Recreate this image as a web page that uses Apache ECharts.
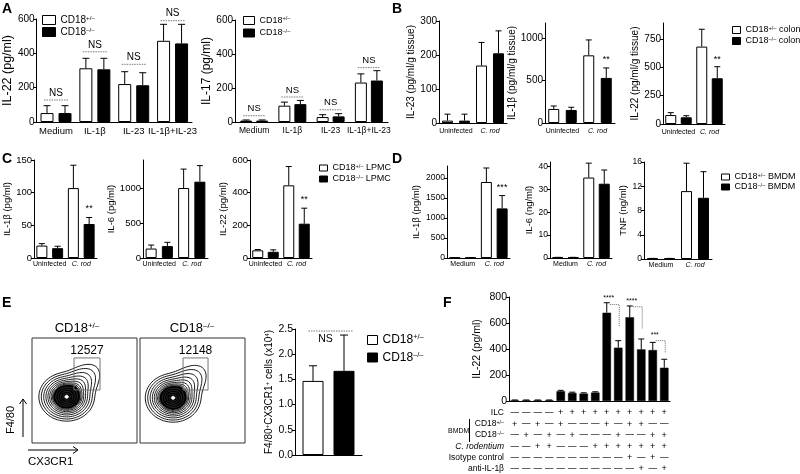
<!DOCTYPE html>
<html><head><meta charset="utf-8">
<script src="https://cdn.jsdelivr.net/npm/echarts@6/dist/echarts.min.js"></script>
<style>html,body{margin:0;padding:0;background:#fff}#c{width:800px;height:474px}</style>
</head><body><div id="c"></div>
<script>
// ---------------- DATA ----------------
const A_cats = ['Medium', 'IL-1β', 'IL-23', 'IL-1β+IL-23'];
const A1_het = [52, 313, 221, 473];
const A1_het_err = [95, 371, 293, 569];
const A1_ko = [52, 307, 214, 458];
const A1_ko_err = [95, 371, 287, 569];
const A1_ns = [128, 409, 336, 590];
const A2_het = [8, 96, 29, 232];
const A2_het_err = [12, 117, 43, 283];
const A2_ko = [8, 105, 33, 244];
const A2_ko_err = [12, 127, 49, 302];
const A2_ns = [37, 147, 72, 320];

const BC_cats = ['Uninfected', 'C. rod'];
const D_cats = ['Medium', 'C. rod'];
const B1_het = [7, 169], B1_het_err = [26, 237], B1_ko = [7, 205], B1_ko_err = [26, 271];
const B2_het = [165, 795], B2_het_err = [200, 976], B2_ko = [153, 530], B2_ko_err = [185, 647];
const B3_het = [79, 682], B3_het_err = [100, 835], B3_ko = [59, 403], B3_ko_err = [73, 505];
const B2_star = [[1, 741, '**']];
const B3_star = [[1, 565, '**']];
const C1_het = [19, 107], C1_het_err = [22, 142], C1_ko = [15, 52], C1_ko_err = [18, 62];
const C2_het = [135, 1000], C2_het_err = [185, 1270], C2_ko = [170, 1090], C2_ko_err = [224, 1320];
const C3_het = [47, 445], C3_het_err = [52, 560], C3_ko = [38, 210], C3_ko_err = [50, 305];
const C1_star = [[1, 75, '**']];
const C3_star = [[1, 357, '**']];
const D1_het = [10, 1900], D1_het_err = [10, 2250], D1_ko = [10, 1240], D1_ko_err = [10, 1560];
const D2_het = [0.3, 35.2], D2_het_err = [0.3, 41.5], D2_ko = [0.3, 32.5], D2_ko_err = [0.3, 38.5];
const D3_het = [0.1, 11.2], D3_het_err = [0.1, 15.8], D3_ko = [0.1, 10.1], D3_ko_err = [0.1, 14.4];
const D1_star = [[1, 1750, '***']];

const E_cat = ['E'];
const E_het = [1.47], E_het_err = [1.77];
const E_ko = [1.67], E_ko_err = [2.38];
const E_ns = 2.46;

const F_cols = ['1','2','3','4','5','6','7','8','9','10','11','12','13','14'];
const F_vals = [5, 5, 5, 5, 75, 62, 57, 65, 679, 410, 644, 397, 392, 256];
const F_err = [8, 8, 8, 8, 82, 68, 63, 71, 756, 464, 731, 477, 451, 321];
const F_brackets = [[8, 9, 742, 570, '****', 790], [10, 11, 725, 555, '****', 772], [12, 13, 464, 369, '***', 505]];
const F_rowLabels = ['ILC', 'CD18{s|+/–}', 'CD18{s|–/–}', '{i|C. rodentium}', 'Isotype control', 'anti-IL-1β'];
const F_ILC  = [0,0,0,0,1,1,1,1,1,1,1,1,1,1];
const F_het  = [1,0,1,0,1,0,0,0,1,0,1,1,0,0];
const F_ko   = [0,1,0,1,0,1,0,0,0,1,0,0,1,1];
const F_crod = [0,0,1,1,0,0,0,1,1,1,1,1,1,1];
const F_iso  = [0,0,0,0,0,0,0,0,0,0,1,0,1,0];
const F_anti = [0,0,0,0,0,0,0,0,0,0,0,1,0,1];

const flowTitles = ['CD18{s|+/–}', 'CD18{s|–/–}'];
const flowCounts = ['12527', '12148'];
const flowGates = [[40, 50.5, 64.8, 81], [41, 50.5, 64.8, 81]];
const flowCenters = [[33, 44], [31.5, 43]];
const flowRadii = [1.6, 3.5, 5.6, 7.7, 9.8, 12.0, 12.9, 14.0, 15.4, 17.0, 18.8, 20.8, 23.0, 25.2];
const flowTails = [0, 0, 0.03, 0.05, 0.08, 0.12, 0.14, 0.17, 0.22, 0.29, 0.37, 0.46, 0.55, 0.63];
const flowCoreR = 12.0;

const legendText = {
  A1h: 'CD18{s|+/–}', A1k: 'CD18{s|–/–}',
  A2h: 'CD18{s|+/–}', A2k: 'CD18{s|–/–}',
  B1h: 'CD18{s|+/–} colon', B1k: 'CD18{s|–/–} colon',
  C1h: 'CD18{s|+/–} LPMC', C1k: 'CD18{s|–/–} LPMC',
  D1h: 'CD18{s|+/–} BMDM', D1k: 'CD18{s|–/–} BMDM',
  Eh: 'CD18{s|+/–}', Ek: 'CD18{s|–/–}'
};

// ---------------- BUILD ----------------
const FONT = 'Liberation Sans, Arial, Helvetica, sans-serif';
function rich(fs) {
  const s = Math.round(fs * 0.62 * 10) / 10;
  return { s: { fontSize: s, verticalAlign: 'top', lineHeight: s, fontFamily: FONT, color: '#000' },
           i: { fontStyle: 'italic', fontSize: fs, fontFamily: FONT, color: '#000' } };
}
const grids = [], xAxis = [], yAxis = [], series = [], legend = [];

function errSeries(gi, vals, errs, off, cap) {
  return { type: 'custom', xAxisIndex: gi, yAxisIndex: gi, z: 1, silent: true, clip: false,
    data: vals.map((v, i) => [i, v, errs[i]]),
    renderItem: (params, api) => {
      const i = api.value(0);
      const a = api.coord([i, api.value(1)]);
      const b = api.coord([i, api.value(2)]);
      const x = a[0] + off;
      return { type: 'group', children: [
        { type: 'line', shape: { x1: x, y1: a[1], x2: x, y2: b[1] }, style: { stroke: '#000', lineWidth: 1 } },
        { type: 'line', shape: { x1: x - cap, y1: b[1], x2: x + cap, y2: b[1] }, style: { stroke: '#000', lineWidth: 1 } }
      ] };
    } };
}
function nsSeries(gi, arr, sep, fs) {
  return { type: 'custom', xAxisIndex: gi, yAxisIndex: gi, z: 4, silent: true, clip: false,
    data: arr.map((v, i) => [i, v]),
    renderItem: (params, api) => {
      const c = api.coord([api.value(0), api.value(1)]);
      const half = sep / 2 + 3;
      return { type: 'group', children: [
        { type: 'line', shape: { x1: c[0] - half, y1: c[1], x2: c[0] + half, y2: c[1] }, style: { stroke: '#555', lineWidth: 0.8, lineDash: [1.5, 1] } },
        { type: 'text', x: c[0], y: c[1] - 2, style: { text: 'NS', fontSize: fs, fontFamily: FONT, fill: '#000', align: 'center', verticalAlign: 'bottom' } }
      ] };
    } };
}
function starSeries(gi, arr, off, fs) {
  return { type: 'custom', xAxisIndex: gi, yAxisIndex: gi, z: 4, silent: true, clip: false,
    data: arr.map(a => [a[0], a[1]]),
    renderItem: (params, api) => {
      const c = api.coord([api.value(0), api.value(1)]);
      return { type: 'text', x: c[0] + off, y: c[1], style: { text: arr[params.dataIndex][2], fontSize: fs, fontFamily: FONT, fill: '#000', align: 'center', verticalAlign: 'middle' } };
    } };
}
function valueAxis(gi, p) {
  return { type: 'value', gridIndex: gi, min: 0, max: p.max, interval: p.ticks[1] - p.ticks[0],
    axisLine: { show: true, lineStyle: { color: '#000', width: 1 } },
    axisTick: { show: true, length: 3, lineStyle: { color: '#000' }, customValues: p.ticks },
    axisLabel: { color: '#000', fontSize: p.tf, margin: 2, fontFamily: FONT, customValues: p.ticks, formatter: p.fmt || (v => String(v)) },
    splitLine: { show: false },
    name: p.name, nameLocation: 'middle', nameGap: p.nameGap,
    nameTextStyle: { color: '#000', fontSize: p.nf, fontFamily: FONT, rich: rich(p.nf) } };
}
function addBarPanel(p) {
  const gi = grids.length;
  const [l, t, w, h] = p.box;
  grids.push({ left: l, top: t, width: w, height: h });
  const sep = p.sep || w / 4;
  const gapPx = sep - p.barW;
  xAxis.push({ type: 'category', gridIndex: gi, data: p.cats,
    axisLine: { lineStyle: { color: '#000', width: 1 } }, axisTick: { show: false },
    axisLabel: { show: !p.noCat, interval: 0, color: '#000', fontSize: p.cf, margin: p.cm, fontFamily: FONT,
      formatter: v => v === 'C. rod' ? '{i|C. rod}' : v, rich: rich(p.cf) } });
  yAxis.push(valueAxis(gi, p));
  const bg = (gapPx / p.barW * 100).toFixed(1) + '%';
  series.push({ type: 'bar', name: p.id + 'h', xAxisIndex: gi, yAxisIndex: gi, data: p.het, barWidth: p.barW, barGap: bg,
    itemStyle: { color: '#fff', borderColor: '#000', borderWidth: 1 }, z: 3, silent: true });
  series.push({ type: 'bar', name: p.id + 'k', xAxisIndex: gi, yAxisIndex: gi, data: p.ko, barWidth: p.barW, barGap: bg,
    itemStyle: { color: '#000', borderColor: '#000', borderWidth: 1 }, z: 3, silent: true });
  series.push(errSeries(gi, p.het, p.hetErr, -sep / 2, p.cap));
  series.push(errSeries(gi, p.ko, p.koErr, sep / 2, p.cap));
  if (p.ns) series.push(nsSeries(gi, p.ns, sep, p.nsFont));
  if (p.star) series.push(starSeries(gi, p.star, sep / 2, p.sf || 9));
  return gi;
}
function addLegend(ids, l, t, iw, ih, gap, fs, lh) {
  legend.push({ orient: 'vertical', left: l, top: t, padding: 0, itemWidth: iw, itemHeight: ih, itemGap: gap,
    data: ids, icon: 'rect', selectedMode: false,
    itemStyle: { borderColor: '#000', borderWidth: 1 },
    formatter: n => legendText[n],
    textStyle: { fontSize: fs, lineHeight: lh, color: '#000', fontFamily: FONT, rich: rich(fs) } });
}

// Panel A
addBarPanel({ id: 'A1', box: [33, 19, 159, 103], cats: A_cats, het: A1_het, hetErr: A1_het_err, ko: A1_ko, koErr: A1_ko_err,
  max: 600, ticks: [0, 200, 400, 600], name: 'IL-22 (pg/ml)', nameGap: 16, barW: 13, sep: 18, cap: 3.5,
  tf: 10, nf: 12.5, cf: 9.5, cm: 4, ns: A1_ns, nsFont: 10 });
addBarPanel({ id: 'A2', box: [235, 20, 153, 102], cats: A_cats, het: A2_het, hetErr: A2_het_err, ko: A2_ko, koErr: A2_ko_err,
  max: 600, ticks: [0, 200, 400, 600], name: 'IL-17 (pg/ml)', nameGap: 20, barW: 12, sep: 16, cap: 3.5,
  tf: 10, nf: 12, cf: 8.5, cm: 4, ns: A2_ns, nsFont: 9.5 });
// Panel B
const Bcommon = { cats: BC_cats, barW: 11, cap: 3, tf: 10, nf: 10, cf: 7, cm: 4.5 };
addBarPanel(Object.assign({}, Bcommon, { id: 'B1', box: [439, 21, 68, 102], het: B1_het, hetErr: B1_het_err, ko: B1_ko, koErr: B1_ko_err,
  max: 300, ticks: [0, 100, 200, 300], name: 'IL-23 (pg/ml/g tissue)', nameGap: 20 }));
addBarPanel(Object.assign({}, Bcommon, { id: 'B2', box: [545, 23, 70, 100], het: B2_het, hetErr: B2_het_err, ko: B2_ko, koErr: B2_ko_err,
  max: 1175, ticks: [0, 500, 1000], name: 'IL-1β (pg/ml/g tissue)', nameGap: 16, star: B2_star }));
addBarPanel(Object.assign({}, Bcommon, { id: 'B3', box: [663, 23, 62, 101], het: B3_het, hetErr: B3_het_err, ko: B3_ko, koErr: B3_ko_err,
  max: 890, ticks: [0, 250, 500, 750], name: 'IL-22 (pg/ml/g tissue)', nameGap: 21, star: B3_star }));
// Panel C
const Ccommon = { cats: BC_cats, barW: 11, cap: 3, tf: 9.5, nf: 9.5, cf: 7, cm: 3 };
addBarPanel(Object.assign({}, Ccommon, { id: 'C1', box: [34, 160, 63, 98], het: C1_het, hetErr: C1_het_err, ko: C1_ko, koErr: C1_ko_err,
  max: 150, ticks: [0, 50, 100, 150], name: 'IL-1β (pg/ml)', nameGap: 20, star: C1_star }));
addBarPanel(Object.assign({}, Ccommon, { id: 'C2', box: [143, 160, 65, 98], het: C2_het, hetErr: C2_het_err, ko: C2_ko, koErr: C2_ko_err,
  max: 1400, ticks: [0, 500, 1000], name: 'IL-6 (pg/ml)', nameGap: 24 }));
addBarPanel(Object.assign({}, Ccommon, { id: 'C3', box: [250, 160, 62, 98], het: C3_het, hetErr: C3_het_err, ko: C3_ko, koErr: C3_ko_err,
  max: 600, ticks: [0, 200, 400, 600], name: 'IL-22 (pg/ml)', nameGap: 21, star: C3_star }));
// Panel D
const Dcommon = { cats: D_cats, barW: 11, cap: 3, tf: 8.5, nf: 9.5, cf: 7, cm: 3 };
addBarPanel(Object.assign({}, Dcommon, { id: 'D1', box: [447, 166, 63, 92], het: D1_het, hetErr: D1_het_err, ko: D1_ko, koErr: D1_ko_err,
  max: 2300, ticks: [0, 500, 1000, 1500, 2000], name: 'IL-1β (pg/ml)', nameGap: 26, star: D1_star }));
addBarPanel(Object.assign({}, Dcommon, { id: 'D2', box: [550, 162, 62, 96], het: D2_het, hetErr: D2_het_err, ko: D2_ko, koErr: D2_ko_err,
  max: 42, ticks: [0, 10, 20, 30, 40], name: 'IL-6 (ng/ml)', nameGap: 14 }));
addBarPanel(Object.assign({}, Dcommon, { id: 'D3', box: [644, 162, 68, 97], het: D3_het, hetErr: D3_het_err, ko: D3_ko, koErr: D3_ko_err,
  max: 16, ticks: [0, 4, 8, 12, 16], name: 'TNF (ng/ml)', nameGap: 9 }));
// Panel E bar
const gE = addBarPanel({ id: 'E', box: [295, 329, 67, 126], cats: E_cat, het: E_het, hetErr: E_het_err, ko: E_ko, koErr: E_ko_err,
  max: 2.5, ticks: [0, 0.5, 1, 1.5, 2, 2.5], fmt: v => v.toFixed(1), name: 'F4/80{s|+}CX3CR1{s|+} cells (x10{s|4})', nameGap: 20,
  barW: 21, sep: 31, cap: 4, tf: 10.5, nf: 10, cf: 9, cm: 3, noCat: true });
series.push({ type: 'custom', xAxisIndex: gE, yAxisIndex: gE, z: 4, silent: true, clip: false, data: [[0, E_ns]],
  renderItem: (params, api) => {
    const c = api.coord([api.value(0), api.value(1)]);
    return { type: 'group', children: [
      { type: 'line', shape: { x1: c[0] - 20, y1: c[1], x2: c[0] + 24, y2: c[1] }, style: { stroke: '#555', lineWidth: 0.8, lineDash: [1.5, 1] } },
      { type: 'text', x: c[0] - 3, y: c[1] + 3, style: { text: 'NS', fontSize: 10.5, fontFamily: FONT, fill: '#000', align: 'center', verticalAlign: 'top' } }
    ] };
  } });

// Panel F
const gF = grids.length;
grids.push({ left: 509, top: 297, width: 161, height: 104 });
xAxis.push({ type: 'category', gridIndex: gF, data: F_cols, axisLine: { lineStyle: { color: '#000' } }, axisTick: { show: false }, axisLabel: { show: false } });
yAxis.push(valueAxis(gF, { max: 800, ticks: [0, 200, 400, 600, 800], name: 'IL-22 (pg/ml)', nameGap: 26, tf: 10.5, nf: 10.5 }));
series.push({ type: 'bar', name: 'F', xAxisIndex: gF, yAxisIndex: gF, data: F_vals, barWidth: 8.5,
  itemStyle: { color: '#000', borderColor: '#000', borderWidth: 0.5 }, z: 3, silent: true });
series.push(errSeries(gF, F_vals, F_err, 0, 3));
series.push({ type: 'custom', xAxisIndex: gF, yAxisIndex: gF, z: 4, silent: true, clip: false,
  data: F_brackets.map(b => [b[0], b[2]]),
  renderItem: (params, api) => {
    const b = F_brackets[params.dataIndex];
    const a = api.coord([b[0], b[2]]), e = api.coord([b[1], b[2]]), d = api.coord([b[1], b[3]]), t = api.coord([b[0], b[5]]);
    return { type: 'group', children: [
      { type: 'polyline', shape: { points: [[a[0] + 3, a[1]], [e[0] + 1, e[1]], [d[0] + 1, d[1]]] }, style: { stroke: '#666', fill: null, lineWidth: 0.8, lineDash: [1.2, 0.8] } },
      { type: 'text', x: t[0] + 2, y: t[1], style: { text: b[4], fontSize: 7, fontFamily: FONT, fill: '#000', align: 'center', verticalAlign: 'middle' } }
    ] };
  } });
// F table
const gT = grids.length;
grids.push({ left: 509, top: 407.4, width: 161, height: 67.2 });
xAxis.push({ type: 'category', gridIndex: gT, data: F_cols, show: false });
yAxis.push({ type: 'category', gridIndex: gT, data: F_rowLabels, inverse: true, axisLine: { show: false }, axisTick: { show: false },
  axisLabel: { interval: 0, hideOverlap: false, color: '#000', fontSize: 8.5, margin: 5, fontFamily: FONT, rich: rich(8.5) } });
const F_rows = [F_ILC, F_het, F_ko, F_crod, F_iso, F_anti];
const F_cells = [];
F_rows.forEach((row, r) => row.forEach((v, c) => F_cells.push([c, r, v])));
series.push({ type: 'custom', xAxisIndex: gT, yAxisIndex: gT, silent: true, clip: false,
  data: F_cells.map(d => [d[0], d[1]]),
  renderItem: (params, api) => {
    const c = api.coord([api.value(0), api.value(1)]);
    const plus = F_cells[params.dataIndex][2] === 1;
    return { type: 'text', x: c[0], y: c[1], style: { text: plus ? '+' : '—', fontSize: plus ? 9 : 8.5, fontFamily: FONT, fill: '#000', align: 'center', verticalAlign: 'middle' } };
  } });

// Flow plots (contours drawn from the outermost inwards; the core is filled)
const flowBoxes = [[32, 338, 105, 105], [140, 338, 105, 105]];
const nC = flowRadii.length;
flowBoxes.forEach((bx, k) => {
  const gi = grids.length;
  grids.push({ left: bx[0], top: bx[1], width: bx[2], height: bx[3], show: true, borderColor: '#333', borderWidth: 1, backgroundColor: 'transparent' });
  xAxis.push({ type: 'value', gridIndex: gi, min: 0, max: 100, show: false });
  yAxis.push({ type: 'value', gridIndex: gi, min: 0, max: 100, show: false });
  const cen = flowCenters[k];
  series.push({ type: 'custom', xAxisIndex: gi, yAxisIndex: gi, silent: true, clip: false,
    data: flowRadii.map((r, i) => [flowRadii[nC - 1 - i], flowTails[nC - 1 - i]]),
    renderItem: (params, api) => {
      const idx = nC - 1 - params.dataIndex;
      const r = flowRadii[idx], tl = flowTails[idx];
      const ang = 50 * Math.PI / 180;
      const pts = [];
      for (let s = 0; s < 72; s++) {
        const th = 2 * Math.PI * s / 72;
        let d = th - ang; d = Math.atan2(Math.sin(d), Math.cos(d));
        const rad = r * (1 + tl * Math.exp(-d * d / 0.2));
        pts.push(api.coord([cen[0] + rad * Math.cos(th) * 1.05, cen[1] + rad * Math.sin(th) * 0.92]));
      }
      let fill = null, stroke = '#000';
      if (r === flowCoreR) fill = '#000';
      if (idx === 0) { fill = '#fff'; stroke = '#fff'; }
      else if (r < flowCoreR) { stroke = '#333'; }
      return { type: 'polygon', shape: { points: pts, smooth: 0.3 }, style: { stroke: stroke, fill: fill, lineWidth: 0.9 } };
    } });
  series.push({ type: 'custom', xAxisIndex: gi, yAxisIndex: gi, silent: true, clip: false,
    data: [[flowGates[k][0], flowGates[k][1]]],
    renderItem: (params, api) => {
      const g = flowGates[k];
      const p0 = api.coord([g[0], g[3]]), p1 = api.coord([g[2], g[1]]);
      return { type: 'group', children: [
        { type: 'rect', shape: { x: p0[0], y: p0[1], width: p1[0] - p0[0], height: p1[1] - p0[1] }, style: { stroke: '#777', fill: null, lineWidth: 1 } },
        { type: 'text', x: (p0[0] + p1[0]) / 2, y: p0[1] - 1, style: { text: flowCounts[k], fontSize: 12, fontFamily: FONT, fill: '#000', align: 'center', verticalAlign: 'bottom' } }
      ] };
    } });
});

// Legends
addLegend(['A1h', 'A1k'], 42, 15, 13, 9, 2, 10, 10);
addLegend(['A2h', 'A2k'], 243, 15.5, 11, 8, 2.5, 9, 10);
addLegend(['B1h', 'B1k'], 732, 25, 8, 7, 1, 9, 10);
addLegend(['C1h', 'C1k'], 319, 163, 8, 6, 1, 9, 10);
addLegend(['D1h', 'D1k'], 721, 172.5, 8, 6, 1, 9, 9);
addLegend(['Eh', 'Ek'], 367, 333.5, 10, 9, 4.5, 12, 13);

// Static decorations
const letters = [['A', 2, 2], ['B', 392, 2], ['C', 2, 152], ['D', 392, 152], ['E', 2, 296], ['F', 443, 296]];
const graphic = letters.map(L => ({ type: 'text', x: L[1], y: L[2], style: { text: L[0], font: 'bold 14px ' + FONT, fill: '#000', verticalAlign: 'top' } }));
[[77, 328], [192, 328]].forEach((p, k) => graphic.push({ type: 'text', x: p[0], y: p[1],
  style: { text: flowTitles[k], font: '13px ' + FONT, fill: '#000', align: 'center', verticalAlign: 'middle', rich: rich(13) } }));
graphic.push({ type: 'line', shape: { x1: 23, y1: 437, x2: 23, y2: 399 }, style: { stroke: '#000', lineWidth: 1 } });
graphic.push({ type: 'polyline', shape: { points: [[19.5, 404], [23, 399], [26.5, 404]] }, style: { stroke: '#000', fill: null, lineWidth: 1 } });
graphic.push({ type: 'line', shape: { x1: 28, y1: 450, x2: 78, y2: 450 }, style: { stroke: '#000', lineWidth: 1 } });
graphic.push({ type: 'polyline', shape: { points: [[73, 446.5], [78, 450], [73, 453.5]] }, style: { stroke: '#000', fill: null, lineWidth: 1 } });
graphic.push({ type: 'text', x: 11, y: 420, rotation: Math.PI / 2, style: { text: 'F4/80', font: '11px ' + FONT, fill: '#000', align: 'center', verticalAlign: 'middle' } });
graphic.push({ type: 'text', x: 28, y: 462, style: { text: 'CX3CR1', font: '11.5px ' + FONT, fill: '#000', align: 'left', verticalAlign: 'middle' } });
graphic.push({ type: 'text', x: 448, y: 431, style: { text: 'BMDM', font: '7px ' + FONT, fill: '#000', align: 'left', verticalAlign: 'middle' } });
graphic.push({ type: 'line', shape: { x1: 469.5, y1: 419, x2: 469.5, y2: 442 }, style: { stroke: '#000', lineWidth: 1 } });

const chart = echarts.init(document.getElementById('c'), null, { renderer: 'canvas' });
chart.setOption({
  animation: false,
  backgroundColor: '#fff',
  textStyle: { fontFamily: FONT },
  grid: grids, xAxis: xAxis, yAxis: yAxis, series: series, legend: legend, graphic: graphic
});
</script></body></html>
